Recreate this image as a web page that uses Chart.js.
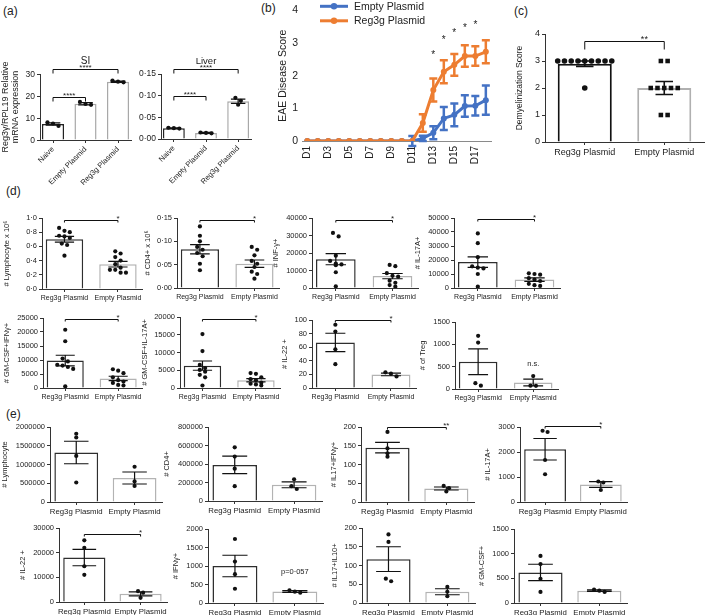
<!DOCTYPE html>
<html>
<head>
<meta charset="utf-8">
<script src="https://cdn.jsdelivr.net/npm/chart.js@4.4.1/dist/chart.umd.min.js"></script>
<style>
  body { margin: 0; width: 709px; height: 615px; overflow: hidden; background: #fff; position: relative; }
  canvas { position: absolute; }
  .tag { position: absolute; font: 12px 'Liberation Sans', Arial, sans-serif; color: #222; }
  .ytick { position: absolute; z-index: 5; font: 8.5px 'Liberation Sans', Arial, sans-serif; line-height: 10px; color: #222; white-space: nowrap; }
</style>
</head>
<body>
<div class="tag" style="left:3px;top:4px">(a)</div>
<div class="tag" style="left:261px;top:1px">(b)</div>
<div class="tag" style="left:514px;top:4px">(c)</div>
<div class="tag" style="left:6px;top:184px">(d)</div>
<div class="tag" style="left:6px;top:407px">(e)</div>
<script>
// ---- panel (a): Reg3g mRNA
const aCats = ['Naive', 'Empty Plasmid', 'Reg3g Plasmid'];
const siMean = [7.3, 16.5, 26.5];
const siSem = [0.5, 0.5, 0.3];
const siPts = [[8.0, 7.5, 6.4], [17.3, 16.4, 16.0], [27.0, 26.5, 26.2]];
const siTicks = [0, 10, 20, 30];
const liverMean = [0.025, 0.014, 0.087];
const liverSem = [0.0008, 0.0012, 0.0048];
const liverPts = [[0.026, 0.025, 0.024], [0.015, 0.014, 0.013], [0.095, 0.088, 0.079]];
const liverTicks = [0, 0.05, 0.10, 0.15];

// ---- panel (b): EAE score
const days = ['D1', 'D2', 'D3', 'D4', 'D5', 'D6', 'D7', 'D8', 'D9', 'D10', 'D11', 'D12', 'D13', 'D14', 'D15', 'D16', 'D17', 'D18'];
const emptyScore = [0, 0, 0, 0, 0, 0, 0, 0, 0, 0, 0, 0.08, 0.25, 0.69, 0.8, 1.07, 1.08, 1.25];
const emptySem = [0, 0, 0, 0, 0, 0, 0, 0, 0, 0, 0.15, 0.08, 0.2, 0.35, 0.35, 0.33, 0.3, 0.45];
const regScore = [0, 0, 0, 0, 0, 0, 0, 0, 0, 0, 0, 0.55, 1.56, 2.12, 2.33, 2.6, 2.6, 2.73];
const regSem = [0, 0, 0, 0, 0, 0, 0, 0, 0, 0, 0, 0.27, 0.35, 0.35, 0.33, 0.33, 0.3, 0.35];
const bTicks = [0, 1, 2, 3, 4];
const starDays = ['D13', 'D14', 'D15', 'D16', 'D17'];
const starLevels = [2.7, 3.15, 3.35, 3.5, 3.6];

// ---- panel (c): demyelinization
const groups = ['Reg3g Plasmid', 'Empty Plasmid'];
const demyMean = [2.9, 2.0];
const demySem = [0.1, 0.24];
const demyPts = [[3, 3, 3, 3, 3, 3, 3, 3, 3, 2], [3, 3, 2, 2, 2, 2, 2, 1, 1]];
const demyTicks = [0, 1, 2, 3, 4];

// ---- panel (d)
const dLymphMean = [0.70, 0.35];
const dLymphSem = [0.04, 0.04];
const dLymphPts = [[0.86, 0.82, 0.80, 0.75, 0.74, 0.72, 0.64, 0.62, 0.47], [0.53, 0.50, 0.45, 0.40, 0.35, 0.30, 0.27, 0.27, 0.23, 0.23]];
const dLymphTicks = [0, 0.2, 0.4, 0.6, 0.8, 1.0];
const dCd4Mean = [0.083, 0.052];
const dCd4Sem = [0.01, 0.008];
const dCd4Pts = [[0.132, 0.112, 0.100, 0.088, 0.082, 0.075, 0.068, 0.052, 0.038], [0.088, 0.082, 0.070, 0.058, 0.052, 0.045, 0.035, 0.030, 0.020]];
const dCd4Ticks = [0, 0.05, 0.10, 0.15];
const dIfnMean = [16500, 6800];
const dIfnSem = [3200, 1500];
const dIfnPts = [[31500, 29500, 18500, 15500, 14000, 13500, 13000, 9000, 1000], [13200, 12500, 8500, 7000, 6500, 4200, 3000, 1700, 800]];
const dIfnTicks = [0, 10000, 20000, 30000, 40000];
const dIl17Mean = [18500, 6000];
const dIl17Sem = [3800, 1200];
const dIl17Pts = [[39000, 32000, 22000, 15500, 14500, 14000, 10000, 1000], [10500, 10000, 9500, 7000, 6000, 5000, 3000, 2000, 1500]];
const dIl17Ticks = [0, 10000, 20000, 30000, 40000, 50000];
const dGmIfnMean = [9800, 3400];
const dGmIfnSem = [1900, 800];
const dGmIfnPts = [[20800, 16700, 10500, 9500, 8300, 8000, 7500, 6800, 600], [6700, 6200, 5300, 3800, 2800, 2300, 1800, 1100, 900]];
const dGmIfnTicks = [0, 5000, 10000, 15000, 20000, 25000];
const dGmIl17Mean = [6300, 2200];
const dGmIl17Sem = [1300, 450];
const dGmIl17Pts = [[15200, 10400, 6500, 5600, 5100, 4600, 3700, 3000, 700], [4200, 4000, 3000, 2500, 2200, 1500, 1200, 1000, 700]];
const dGmIl17Ticks = [0, 5000, 10000, 15000, 20000];
const dIl22Mean = [67, 20];
const dIl22Sem = [13.5, 2];
const dIl22Pts = [[93, 83, 57, 35], [23, 21, 17]];
const dIl22Ticks = [0, 20, 40, 60, 80, 100];
const dTregMean = [610, 145];
const dTregSem = [290, 75];
const dTregPts = [[1190, 1040, 130, 75], [290, 75, 70]];
const dTregTicks = [0, 500, 1000, 1500];

// ---- panel (e)
const eLymphMean = [1320000, 640000];
const eLymphSem = [300000, 160000];
const eLymphPts = [[1820000, 1720000, 1230000, 520000], [940000, 550000, 430000]];
const eLymphTicks = [0, 500000, 1000000, 1500000, 2000000];
const eCd4Mean = [390000, 175000];
const eCd4Sem = [95000, 32000];
const eCd4Pts = [[580000, 480000, 350000, 160000], [235000, 160000, 130000]];
const eCd4Ticks = [0, 200000, 400000, 600000, 800000];
const eIl17IfnMean = [145, 36];
const eIl17IfnSem = [14, 4];
const eIl17IfnPts = [[187, 143, 130, 121], [43, 37, 28]];
const eIl17IfnTicks = [0, 50, 100, 150, 200];
const eIl17Mean = [2110, 700];
const eIl17Sem = [430, 115];
const eIl17Pts = [[2850, 2800, 1680, 1110], [820, 780, 480]];
const eIl17Ticks = [0, 1000, 2000, 3000];
const eIl22Mean = [18000, 3300];
const eIl22Sem = [3300, 800];
const eIl22Pts = [[25000, 22000, 14500, 11000], [4400, 3800, 1700]];
const eIl22Ticks = [0, 10000, 20000, 30000];
const eIfnMean = [1000, 310];
const eIfnSem = [290, 25];
const eIfnPts = [[1730, 1120, 780, 385], [345, 305, 280]];
const eIfnTicks = [0, 500, 1000, 1500, 2000];
const eIl10Mean = [117, 30];
const eIl10Sem = [33, 8];
const eIl10Pts = [[183, 163, 65, 58], [43, 30, 18]];
const eIl10Ticks = [0, 50, 100, 150, 200];
const eGmMean = [620, 250];
const eGmSem = [165, 15];
const eGmPts = [[955, 790, 490, 225], [270, 250, 225]];
const eGmTicks = [0, 500, 1000, 1500];

const FAM = "'Liberation Sans', Arial, Helvetica, sans-serif";
const INK = '#222';
const AXIS = '#333';
const BLUE = '#4472C4';
const ORANGE = '#ED7D31';
const font = size => ({ family: FAM, size: size });

// canvas box so that the plot area lands on L..R / T..B
function place(g) {
  const c = document.createElement('canvas');
  const left = g.L - g.yw, top = g.T - g.pt;
  const w = g.R + g.pr - left, h = g.B + g.xh - top;
  Object.assign(c.style, { left: left + 'px', top: top + 'px', width: w + 'px', height: h + 'px' });
  c.width = w; c.height = h;
  document.body.appendChild(c);
  return c;
}

// spread points with close values side by side (rough beeswarm)
function swarm(vals, gi, span, step, tol) {
  const rows = [];
  vals.slice().sort((a, b) => b - a).forEach(v => {
    const row = rows[rows.length - 1];
    if (row && row[0] - v <= tol * span) row.push(v); else rows.push([v]);
  });
  const out = [];
  rows.forEach(row => row.forEach((v, k) => out.push({ x: gi + (k - (row.length - 1) / 2) * step, y: v })));
  return out;
}

function fmt(dec) {
  return v => dec ? v.toFixed(dec).replace('.', '·') : String(v);
}

function barOverlay(s) {
  return {
    id: 'barOverlay',
    afterDatasetsDraw(chart) {
      const { ctx, scales: { x, y } } = chart;
      const capHalf = (x.getPixelForValue(1) - x.getPixelForValue(0)) * s.cap / 2;
      ctx.save();
      ctx.strokeStyle = '#111';
      ctx.lineWidth = s.ew;
      s.mean.forEach((m, i) => {
        const px = x.getPixelForValue(i);
        const y0 = y.getPixelForValue(m - s.sem[i]), y1 = y.getPixelForValue(m + s.sem[i]);
        ctx.beginPath();
        ctx.moveTo(px, y0); ctx.lineTo(px, y1);
        ctx.moveTo(px - capHalf, y0); ctx.lineTo(px + capHalf, y0);
        ctx.moveTo(px - capHalf, y1); ctx.lineTo(px + capHalf, y1);
        ctx.stroke();
      });
      ctx.restore();
    },
    afterDraw(chart) {
      const { ctx, chartArea, scales: { x, y } } = chart;
      ctx.save();
      ctx.strokeStyle = '#111';
      ctx.fillStyle = INK;
      ctx.lineWidth = 1;
      ctx.textAlign = 'center';
      (s.sig || []).forEach(b => {
        const x0 = x.getPixelForValue(b.a), x1 = x.getPixelForValue(b.b);
        const yy = Math.round(y.getPixelForValue(b.y)) + 0.5;
        ctx.beginPath();
        ctx.moveTo(x0, yy + s.drop); ctx.lineTo(x0, yy); ctx.lineTo(x1, yy); ctx.lineTo(x1, yy + s.drop);
        ctx.stroke();
        ctx.font = s.sf + 'px ' + FAM;
        ctx.textBaseline = 'bottom';
        ctx.fillText(b.text, x0 + (x1 - x0) * (b.at ?? s.at), yy + s.sf * 0.25);
      });
      (s.notes || []).forEach(n => {
        ctx.font = s.nf + 'px ' + FAM;
        ctx.textBaseline = 'middle';
        ctx.fillText(n.text, x.getPixelForValue(n.x), y.getPixelForValue(n.y));
      });
      // stacked two-line axis title, drawn beside the y axis
      if (s.sideTitle) {
        ctx.font = s.tf + 'px ' + FAM;
        ctx.textBaseline = 'middle';
        ctx.textAlign = 'center';
        ctx.translate(y.left + s.tf * 0.6, (chartArea.top + chartArea.bottom) / 2);
        ctx.rotate(-Math.PI / 2);
        s.sideTitle.forEach((t, k) => ctx.fillText(t, 0, k * s.tf * 1.15));
      }
      ctx.restore();
    }
  };
}

function barPanel(g, s) {
  g = Object.assign({ xh: 16, pt: 12, pr: 4 }, g);
  const canvas = place(g);
  const n = s.cats.length;
  const span = s.ticks[s.ticks.length - 1] - s.ticks[0];
  const dots = s.pts.map((vals, gi) => ({
    type: 'scatter', order: 0,
    data: swarm(vals, gi, span, s.step, s.tol),
    pointStyle: s.shapes ? s.shapes[gi] : 'circle',
    pointRadius: s.shapes && s.shapes[gi] === 'rect' ? s.r * 1.15 : s.r,
    backgroundColor: '#111', borderWidth: 0
  }));
  const titleBlock = s.title ? s.titleFont * 1.2 + 10 : 0;
  return new Chart(canvas, {
    type: 'bar',
    data: {
      datasets: [{
        data: s.mean.map((m, i) => ({ x: i, y: m })), order: 1,
        backgroundColor: '#fff', borderColor: s.borders, borderWidth: s.bw,
        barPercentage: s.barPct, categoryPercentage: 1
      }, ...dots]
    },
    options: {
      responsive: false, animation: false, events: [],
      layout: { padding: { top: Math.max(0, g.pt - titleBlock), right: g.pr, left: 0, bottom: 0 } },
      plugins: {
        legend: { display: false },
        tooltip: { enabled: false },
        title: s.title ? {
          display: true, text: s.title, fullSize: false, color: INK,
          font: Object.assign(font(s.titleFont), { weight: 'normal' }),
          padding: { top: 3, bottom: 7 }
        } : { display: false }
      },
      scales: {
        x: {
          type: 'linear', offset: false,
          min: s.xmin ?? -0.5, max: s.xmax ?? n - 0.5,
          afterBuildTicks: sc => { sc.ticks = s.cats.map((c, i) => ({ value: i })); },
          grid: { display: true, drawOnChartArea: false, offset: false, tickLength: 3, color: AXIS },
          border: { display: true, color: AXIS, width: 1 },
          ticks: { font: font(s.xf), color: INK, padding: 2, autoSkip: false,
                   maxRotation: s.rot || 0, minRotation: s.rot || 0, callback: v => s.cats[v] },
          afterFit: sc => { sc.height = g.xh; }
        },
        y: {
          min: s.ticks[0], max: s.ticks[s.ticks.length - 1],
          afterBuildTicks: sc => { sc.ticks = s.ticks.map(v => ({ value: v })); },
          ticks: { font: font(s.yf), color: s.pageTicks ? 'rgba(0,0,0,0)' : INK, padding: 2, autoSkip: false, callback: fmt(s.dec) },
          grid: { drawOnChartArea: false, tickLength: 3, color: AXIS },
          border: { color: AXIS, width: 1 },
          title: { display: !!s.yTitle, text: s.yTitle, font: font(s.tf), color: INK, padding: 0 },
          afterFit: sc => { sc.width = g.yw; }
        }
      }
    },
    plugins: [barOverlay(s)]
  });
}

// ---------- (a)
const aStyle = {
  cats: aCats, cap: 0.45, step: 0.17, tol: 0.06, r: 2.1, bw: 1.5, ew: 1.2,
  xf: 7.5, yf: 8.5, tf: 9, sf: 8, nf: 8, barPct: 0.68, rot: 45, drop: 4, at: 0.5,
  xmin: -0.4, xmax: 2.4, borders: ['#222', '#a8a8a8', '#a8a8a8'], titleFont: 10
};
const siChart = barPanel({ L: 40, R: 131, T: 74, B: 140, yw: 40, xh: 46, pt: 24 }, Object.assign({}, aStyle, {
  mean: siMean, sem: siSem, pts: siPts, ticks: siTicks, title: 'SI', pageTicks: true,
  sideTitle: ['Reg3γ/RPL19 Relative', 'mRNA expression'],
  sig: [{ a: 0, b: 2, y: 32.3, text: '****' }, { a: 0, b: 1, y: 19.7, text: '****' }]
}));
barPanel({ L: 161, R: 251, T: 74, B: 139, yw: 26, xh: 47, pt: 22 }, Object.assign({}, aStyle, {
  mean: liverMean, sem: liverSem, pts: liverPts, ticks: liverTicks, dec: 2, title: 'Liver', titleFont: 9.5,
  sig: [{ a: 0, b: 2, y: 0.1615, text: '****' }, { a: 0, b: 1, y: 0.099, text: '****' }]
}));

// ---------- (b)
(function () {
  const g = { L: 302, R: 497, T: 10, B: 141, yw: 25, xh: 30, pt: 10, pr: 6 };
  const sems = [emptySem, regSem];
  const cols = [BLUE, ORANGE];
  new Chart(place(g), {
    type: 'line',
    data: {
      labels: days,
      datasets: [
        { label: 'Empty Plasmid', data: emptyScore, borderColor: BLUE, backgroundColor: BLUE, borderWidth: 3, pointRadius: 3, pointBorderWidth: 0, order: 1 },
        { label: 'Reg3g Plasmid', data: regScore, borderColor: ORANGE, backgroundColor: ORANGE, borderWidth: 3, pointRadius: 3, pointBorderWidth: 0, order: 0 }
      ]
    },
    options: {
      responsive: false, animation: false, events: [],
      layout: { padding: { top: g.pt, right: g.pr, left: 0, bottom: 0 } },
      plugins: { legend: { display: false }, tooltip: { enabled: false } },
      scales: {
        x: {
          offset: true,
          grid: { display: false, drawTicks: false },
          border: { display: true, color: '#8a8a8a', width: 1 },
          ticks: { font: font(10), color: INK, autoSkip: false, maxRotation: 90, minRotation: 90, padding: 5,
                   callback: (v, i) => (i % 2 === 0 ? days[i] : '') },
          afterFit: sc => { sc.height = g.xh; }
        },
        y: {
          min: bTicks[0], max: bTicks[bTicks.length - 1],
          afterBuildTicks: sc => { sc.ticks = bTicks.map(v => ({ value: v })); },
          ticks: { font: font(10.5), color: INK, padding: 4 },
          grid: { display: false, drawTicks: false },
          border: { display: false },
          title: { display: true, text: 'EAE Disease Score', font: font(10.5), color: INK, padding: 0 },
          afterFit: sc => { sc.width = g.yw; }
        }
      }
    },
    plugins: [{
      id: 'eae',
      afterDatasetDraw(chart, args) {
        const { ctx, scales: { y } } = chart;
        const i = args.index, sem = sems[i], vals = chart.data.datasets[i].data;
        ctx.save();
        ctx.strokeStyle = cols[i];
        ctx.lineWidth = 2.5;
        args.meta.data.forEach((p, j) => {
          if (!sem[j]) return;
          const y0 = y.getPixelForValue(vals[j] - sem[j]), y1 = y.getPixelForValue(vals[j] + sem[j]);
          ctx.beginPath();
          ctx.moveTo(p.x, y0); ctx.lineTo(p.x, y1);
          ctx.moveTo(p.x - 4, y0); ctx.lineTo(p.x + 4, y0);
          ctx.moveTo(p.x - 4, y1); ctx.lineTo(p.x + 4, y1);
          ctx.stroke();
        });
        ctx.restore();
      },
      afterDraw(chart) {
        const { ctx, chartArea, scales: { x, y } } = chart;
        ctx.save();
        ctx.fillStyle = INK;
        ctx.font = '10px ' + FAM;
        ctx.textAlign = 'center';
        ctx.textBaseline = 'middle';
        starDays.forEach((d, k) => ctx.fillText('*', x.getPixelForValue(days.indexOf(d)), y.getPixelForValue(starLevels[k]) + 2));
        chart.data.datasets.forEach((ds, k) => {
          const yy = chartArea.top - 4 + k * 14.5;
          const x0 = chartArea.left + 18, x1 = chartArea.left + 46;
          ctx.strokeStyle = ds.borderColor;
          ctx.fillStyle = ds.borderColor;
          ctx.lineWidth = 3;
          ctx.beginPath(); ctx.moveTo(x0, yy); ctx.lineTo(x1, yy); ctx.stroke();
          ctx.beginPath(); ctx.arc((x0 + x1) / 2, yy, 3.2, 0, Math.PI * 2); ctx.fill();
          ctx.fillStyle = INK;
          ctx.textAlign = 'left';
          ctx.font = '10.5px ' + FAM;
          ctx.fillText(ds.label, x1 + 6, yy + 0.5);
        });
        ctx.restore();
      }
    }]
  });
})();

// ---------- (c)
barPanel({ L: 545, R: 705, T: 34, B: 142, yw: 30, xh: 20, pt: 14, pr: 3 }, {
  cats: groups, mean: demyMean, sem: demySem, pts: demyPts, ticks: demyTicks,
  shapes: ['circle', 'rect'], cap: 0.22, step: 0.085, tol: 0.05, r: 2.8, bw: 2, ew: 1.6,
  xf: 9, yf: 9, tf: 8.5, sf: 9, nf: 9, barPct: 0.68, drop: 8, at: 0.75,
  borders: ['#111', '#b0b0b0'], yTitle: 'Demyelinization Score',
  sig: [{ a: 0, b: 1, y: 3.75, text: '**' }]
});

// ---------- (d) and (e)
const smallStyle = {
  cats: groups, cap: 0.36, step: 0.1, tol: 0.06, r: 2.1, bw: 1.5, ew: 1.2,
  xf: 7, yf: 7.5, tf: 7.5, sf: 8, nf: 7.5, barPct: 0.7, drop: 2, at: 1,
  xmin: -0.42, xmax: 1.45, borders: ['#2e2e2e', '#b3b3b3']
};
const smallPanels = [
  [{ L: 42, R: 142, T: 218, B: 289, yw: 40 }, { mean: dLymphMean, sem: dLymphSem, pts: dLymphPts, ticks: dLymphTicks, dec: 1, yTitle: '# Lymphocyte x 10⁶', sig: [{ a: 0, b: 1, y: 0.97, text: '*' }] }],
  [{ L: 177, R: 279, T: 218, B: 288, yw: 34 }, { mean: dCd4Mean, sem: dCd4Sem, pts: dCd4Pts, ticks: dCd4Ticks, dec: 2, yTitle: '# CD4+ x 10⁶', sig: [{ a: 0, b: 1, y: 0.146, text: '*' }] }],
  [{ L: 312, R: 418, T: 218, B: 288, yw: 41 }, { mean: dIfnMean, sem: dIfnSem, pts: dIfnPts, ticks: dIfnTicks, yTitle: '# INF-γ+', sig: [{ a: 0, b: 1, y: 39000, text: '*' }] }],
  [{ L: 454, R: 560, T: 218, B: 288, yw: 41 }, { mean: dIl17Mean, sem: dIl17Sem, pts: dIl17Pts, ticks: dIl17Ticks, yTitle: '# IL-17A+', sig: [{ a: 0, b: 1, y: 49000, text: '*' }] }],
  [{ L: 43, R: 142, T: 318, B: 388, yw: 41 }, { mean: dGmIfnMean, sem: dGmIfnSem, pts: dGmIfnPts, ticks: dGmIfnTicks, yTitle: '# GM-CSF+IFNγ+', sig: [{ a: 0, b: 1, y: 24500, text: '*' }] }],
  [{ L: 180, R: 280, T: 317, B: 388, yw: 40 }, { mean: dGmIl17Mean, sem: dGmIl17Sem, pts: dGmIl17Pts, ticks: dGmIl17Ticks, yTitle: '# GM-CSF+IL-17A+', sig: [{ a: 0, b: 1, y: 19500, text: '*' }] }],
  [{ L: 312, R: 416, T: 320, B: 388, yw: 32 }, { mean: dIl22Mean, sem: dIl22Sem, pts: dIl22Pts, ticks: dIl22Ticks, yTitle: '# IL-22 +', sig: [{ a: 0, b: 1, y: 100, text: '*' }] }],
  [{ L: 455, R: 558, T: 322, B: 389, yw: 37 }, { mean: dTregMean, sem: dTregSem, pts: dTregPts, ticks: dTregTicks, yTitle: '# of Treg', notes: [{ x: 1, y: 560, text: 'n.s.' }] }],
  [{ L: 50, R: 162, T: 427, B: 502, yw: 50 }, { mean: eLymphMean, sem: eLymphSem, pts: eLymphPts, ticks: eLymphTicks, yTitle: '# Lymphocyte' }],
  [{ L: 208, R: 322, T: 427, B: 501, yw: 46 }, { mean: eCd4Mean, sem: eCd4Sem, pts: eCd4Pts, ticks: eCd4Ticks, yTitle: '# CD4+' }],
  [{ L: 361, R: 474, T: 427, B: 502, yw: 32 }, { mean: eIl17IfnMean, sem: eIl17IfnSem, pts: eIl17IfnPts, ticks: eIl17IfnTicks, yTitle: '# IL17+IFNγ+', sig: [{ a: 0, b: 1, y: 200, text: '**' }] }],
  [{ L: 520, R: 627, T: 427, B: 502, yw: 37 }, { mean: eIl17Mean, sem: eIl17Sem, pts: eIl17Pts, ticks: eIl17Ticks, yTitle: '# IL-17A+', sig: [{ a: 0, b: 1, y: 3050, text: '*' }] }],
  [{ L: 59, R: 167, T: 528, B: 602, yw: 41 }, { mean: eIl22Mean, sem: eIl22Sem, pts: eIl22Pts, ticks: eIl22Ticks, yTitle: '# IL-22 +', sig: [{ a: 0, b: 1, y: 27700, text: '*' }] }],
  [{ L: 208, R: 323, T: 529, B: 603, yw: 37 }, { mean: eIfnMean, sem: eIfnSem, pts: eIfnPts, ticks: eIfnTicks, yTitle: '# IFNγ+', notes: [{ x: 1, y: 850, text: 'p=0·057' }] }],
  [{ L: 362, R: 475, T: 528, B: 603, yw: 32 }, { mean: eIl10Mean, sem: eIl10Sem, pts: eIl10Pts, ticks: eIl10Ticks, yTitle: '# IL17+IL10+' }],
  [{ L: 514, R: 627, T: 529, B: 603, yw: 37 }, { mean: eGmMean, sem: eGmSem, pts: eGmPts, ticks: eGmTicks, yTitle: '# GM-CSF+' }]
];
smallPanels.forEach(([g, s], k) => {
  const extra = k >= 8 ? { cap: 0.42, step: 0.09, tol: 0.04, xf: 7.8, barPct: 0.75, xmin: -0.45, xmax: 1.47 } : {};
  barPanel(g, Object.assign({}, smallStyle, extra, s));
});

// SI tick labels did not show on its canvas, so they go on the page, placed by the chart's own y scale
(function () {
  const sy = siChart.scales.y;
  const box = siChart.canvas.getBoundingClientRect();
  siTicks.forEach(v => {
    const d = document.createElement('div');
    d.className = 'ytick';
    d.textContent = fmt(0)(v);
    d.style.right = (709 - (box.left + sy.right - 5)) + 'px';
    d.style.top = (box.top + sy.getPixelForValue(v) - 5) + 'px';
    document.body.appendChild(d);
  });
})();
</script>
</body>
</html>
